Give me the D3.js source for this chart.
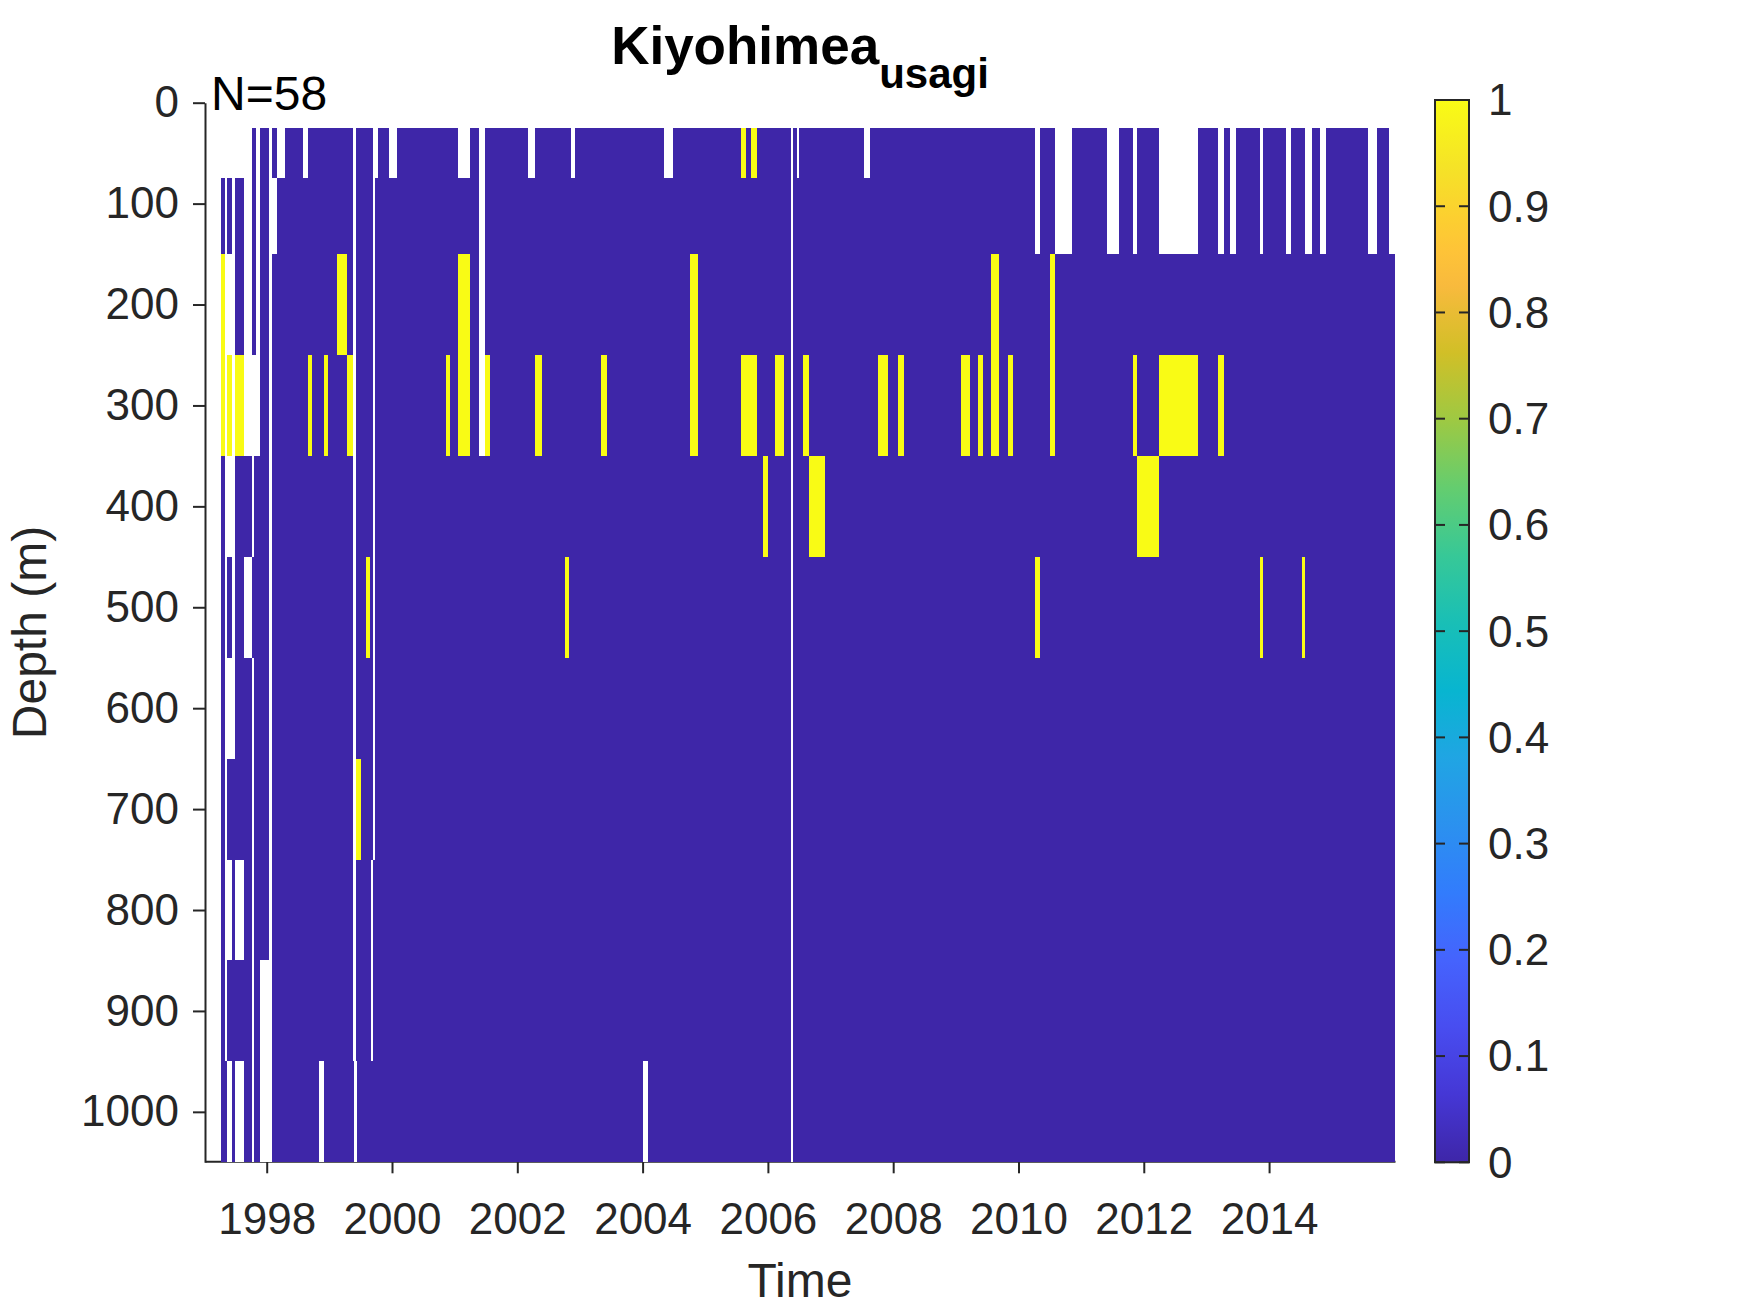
<!DOCTYPE html>
<html>
<head>
<meta charset="utf-8">
<script src="https://cdn.jsdelivr.net/npm/d3@7"></script>
<style>
  body { margin: 0; background: #fff; }
  svg { display: block; font-family: "Liberation Sans", Arial, Helvetica, sans-serif; }
</style>
</head>
<body>
<svg width="1750" height="1313"></svg>
<script>
"use strict";

// depth bins (m) around the sampled depths 50, 100, 200 ... 1000
const depthEdges = [25, 75, 150, 250, 350, 450, 550, 650, 750, 850, 950, 1050];
// first / last sampling time per depth bin (decimal year)
const firstSample = [1997.77, 1997.27, 1997.27, 1997.27, 1997.27, 1997.27, 1997.27, 1997.27, 1997.27, 1997.27, 1997.27];
const lastSample = 2016.01;

// gaps in the two shallowest bins after 2010
const shallowGaps = [
  [2010.27, 2010.35], [2010.58, 2010.86], [2011.42, 2011.60], [2011.83, 2011.89],
  [2012.25, 2012.87], [2013.19, 2013.28], [2013.38, 2013.47], [2013.86, 2013.91],
  [2014.27, 2014.35], [2014.58, 2014.69], [2014.82, 2014.91], [2015.58, 2015.72],
  [2015.92, 2016.01]
];

// not sampled (NaN) intervals, one list per depth bin
const noData = [
  [[1997.83, 1997.89], [1998.03, 1998.09], [1998.17, 1998.29], [1998.58, 1998.66], [1999.38, 1999.42],
   [1999.70, 1999.77], [1999.95, 2000.08], [2001.05, 2001.25], [2001.39, 2001.49], [2002.17, 2002.29],
   [2002.86, 2002.92], [2004.34, 2004.49], [2006.37, 2006.40], [2006.46, 2006.50], [2007.54, 2007.63],
   ...shallowGaps],
  [[1997.33, 1997.37], [1997.44, 1997.49], [1997.63, 1997.77], [1997.83, 1997.89], [1998.03, 1998.17],
   [1999.38, 1999.42], [1999.69, 1999.73], [2001.39, 2001.49], [2006.37, 2006.40], ...shallowGaps],
  [[1997.33, 1997.49], [1997.63, 1997.77], [1997.83, 1997.89], [1998.03, 1998.09], [1999.38, 1999.42],
   [1999.69, 1999.73], [2001.39, 2001.49], [2006.37, 2006.40]],
  [[1997.33, 1997.37], [1997.44, 1997.49], [1997.63, 1997.89], [1998.03, 1998.09], [1999.38, 1999.42],
   [1999.69, 1999.73], [2001.39, 2001.49], [2006.37, 2006.40]],
  [[1997.33, 1997.49], [1997.77, 1997.79], [1998.03, 1998.09], [1999.38, 1999.42], [1999.69, 1999.73],
   [2006.37, 2006.40]],
  [[1997.33, 1997.37], [1997.44, 1997.49], [1997.63, 1997.77], [1998.03, 1998.09], [1999.38, 1999.42],
   [1999.69, 1999.73], [2006.37, 2006.40]],
  [[1997.33, 1997.49], [1997.77, 1997.79], [1998.03, 1998.09], [1999.38, 1999.42], [1999.69, 1999.73],
   [2006.37, 2006.40]],
  [[1997.33, 1997.37], [1997.77, 1997.79], [1998.03, 1998.09], [1999.38, 1999.42], [1999.69, 1999.73],
   [2006.37, 2006.40]],
  [[1997.33, 1997.44], [1997.49, 1997.63], [1997.77, 1997.79], [1998.03, 1998.09], [1999.38, 1999.42],
   [1999.66, 1999.70], [2006.37, 2006.40]],
  [[1997.33, 1997.37], [1997.77, 1997.79], [1997.89, 1998.09], [1999.38, 1999.42], [1999.66, 1999.70],
   [2006.37, 2006.40]],
  [[1997.37, 1997.44], [1997.49, 1997.63], [1997.77, 1997.79], [1997.89, 1998.09], [1998.83, 1998.91],
   [1999.40, 1999.44], [2004.00, 2004.08], [2006.37, 2006.40]]
];

// intervals where Kiyohimea usagi was present (value 1), one list per depth bin
const present = [
  [[2005.57, 2005.65], [2005.73, 2005.83]],
  [],
  [[1997.27, 1997.33], [1999.12, 1999.28], [2001.05, 2001.25], [2004.76, 2004.89], [2009.56, 2009.69],
   [2010.51, 2010.58]],
  [[1997.27, 1997.33], [1997.37, 1997.44], [1997.49, 1997.63], [1998.66, 1998.73], [1998.91, 1998.98],
   [1999.28, 1999.38], [2000.86, 2000.93], [2001.05, 2001.25], [2001.49, 2001.57], [2002.29, 2002.40],
   [2003.33, 2003.43], [2004.76, 2004.89], [2005.57, 2005.83], [2006.11, 2006.26], [2006.56, 2006.66],
   [2007.76, 2007.92], [2008.08, 2008.17], [2009.08, 2009.23], [2009.36, 2009.44], [2009.56, 2009.69],
   [2009.83, 2009.91], [2010.51, 2010.58], [2011.83, 2011.89], [2012.25, 2012.87], [2013.19, 2013.28]],
  [[2005.92, 2006.00], [2006.66, 2006.91], [2011.89, 2012.25]],
  [[1999.58, 1999.65], [2002.76, 2002.83], [2010.27, 2010.35], [2013.86, 2013.91], [2014.52, 2014.58]],
  [],
  [[1999.43, 1999.50]],
  [],
  [],
  []
];

const yearTicks = [1998, 2000, 2002, 2004, 2006, 2008, 2010, 2012, 2014];
const depthTicks = [0, 100, 200, 300, 400, 500, 600, 700, 800, 900, 1000];
const colorTicks = [0, 0.1, 0.2, 0.3, 0.4, 0.5, 0.6, 0.7, 0.8, 0.9, 1];
const timeRange = [1997.015, 2016.01];
const depthRange = [0, 1050];

// parula colormap samples
const parulaPos = [0, 0.0635, 0.127, 0.19, 0.254, 0.317, 0.381, 0.444, 0.508, 0.571, 0.635, 0.698, 0.762, 0.825, 0.857, 0.889, 0.937, 1];
const parulaColors = ["#3e26a8", "#4537d5", "#484df0", "#4563fd", "#327cfc", "#2b91ef", "#20a5e3", "#08b5d0", "#19bfb6",
  "#37c897", "#64cd6f", "#9dc943", "#d1bf27", "#f8ba3d", "#fec338", "#fccf30", "#f5e327", "#f9fb15"];

const titleMain = "Kiyohimea";
const titleSub = "usagi";
const countLabel = "N=58";

const svg = d3.select("svg");
const axisColor = "#262626";
const plot = { left: 205, right: 1395, top: 102.7, bottom: 1162.3 };
const bar = { left: 1435, width: 34, top: 100, bottom: 1162.3 };

const xScale = d3.scaleLinear().domain(timeRange).range([plot.left, plot.right]);
const yScale = d3.scaleLinear().domain(depthRange).range([plot.top, plot.bottom]);
const colorScale = d3.scaleLinear().domain(parulaPos).range(parulaColors);

// axes first (MATLAB layer bottom)
const yAxis = d3.axisLeft(yScale)
  .tickValues(depthTicks)
  .tickFormat(d3.format("d"))
  .tickSize(12)
  .tickSizeOuter(0)
  .tickPadding(14);

const xAxis = d3.axisBottom(xScale)
  .tickValues(yearTicks)
  .tickFormat(d3.format("d"))
  .tickSize(12)
  .tickSizeOuter(0)
  .tickPadding(29);

const styleAxis = g => {
  g.select(".domain").attr("stroke", axisColor).attr("stroke-width", 2);
  g.selectAll(".tick line").attr("stroke", axisColor).attr("stroke-width", 2);
  g.selectAll(".tick text")
    .attr("fill", axisColor)
    .attr("font-size", 44)
    .attr("font-family", null);
  g.attr("font-family", null);
};

svg.append("g")
  .attr("transform", `translate(${plot.left},0)`)
  .call(yAxis)
  .call(styleAxis);

svg.append("g")
  .attr("transform", `translate(0,${plot.bottom - 1})`)
  .call(xAxis)
  .call(styleAxis);

// cells
const rows = firstSample.map((from, i) => ({ top: depthEdges[i], bottom: depthEdges[i + 1], t0: from, t1: lastSample }));
const gaps = noData.flatMap((list, i) => list.map(([t0, t1]) => ({ top: depthEdges[i], bottom: depthEdges[i + 1], t0, t1 })));
const hits = present.flatMap((list, i) => list.map(([t0, t1]) => ({ top: depthEdges[i], bottom: depthEdges[i + 1], t0, t1 })));

const cellsG = svg.append("g").attr("shape-rendering", "crispEdges");

const drawCells = (data, cls, fill) => {
  cellsG.selectAll(`rect.${cls}`)
    .data(data)
    .enter()
    .append("rect")
    .attr("class", cls)
    .attr("x", d => xScale(d.t0))
    .attr("y", d => yScale(d.top))
    .attr("width", d => xScale(d.t1) - xScale(d.t0))
    .attr("height", d => yScale(d.bottom) - yScale(d.top))
    .attr("fill", fill);
};

drawCells(rows, "absent", colorScale(0));
drawCells(gaps, "nodata", "#ffffff");
drawCells(hits, "present", colorScale(1));

// colorbar
const barScale = d3.scaleLinear().domain([0, 1]).range([bar.bottom, bar.top]);

const grad = svg.append("defs")
  .append("linearGradient")
  .attr("id", "parula")
  .attr("x1", 0).attr("y1", 1)
  .attr("x2", 0).attr("y2", 0);

grad.selectAll("stop")
  .data(parulaPos)
  .enter()
  .append("stop")
  .attr("offset", d => d)
  .attr("stop-color", (d, i) => parulaColors[i]);

const barG = svg.append("g");

barG.append("rect")
  .attr("x", bar.left)
  .attr("y", bar.top)
  .attr("width", bar.width)
  .attr("height", bar.bottom - bar.top)
  .attr("fill", "url(#parula)");

barG.selectAll("line.left")
  .data(colorTicks)
  .enter()
  .append("line")
  .attr("class", "left")
  .attr("x1", bar.left)
  .attr("x2", bar.left + 10)
  .attr("y1", d => barScale(d))
  .attr("y2", d => barScale(d))
  .attr("stroke", axisColor)
  .attr("stroke-width", 2);

barG.selectAll("line.right")
  .data(colorTicks)
  .enter()
  .append("line")
  .attr("class", "right")
  .attr("x1", bar.left + bar.width - 10)
  .attr("x2", bar.left + bar.width)
  .attr("y1", d => barScale(d))
  .attr("y2", d => barScale(d))
  .attr("stroke", axisColor)
  .attr("stroke-width", 2);

barG.append("rect")
  .attr("x", bar.left)
  .attr("y", bar.top)
  .attr("width", bar.width)
  .attr("height", bar.bottom - bar.top)
  .attr("fill", "none")
  .attr("stroke", axisColor)
  .attr("stroke-width", 2);

barG.selectAll("text")
  .data(colorTicks)
  .enter()
  .append("text")
  .attr("x", bar.left + bar.width + 19)
  .attr("y", d => barScale(d))
  .attr("dy", "0.35em")
  .attr("font-size", 44)
  .attr("fill", axisColor)
  .text(d => d3.format("~g")(d));

// labels
const title = svg.append("text")
  .attr("x", (plot.left + plot.right) / 2)
  .attr("y", 64)
  .attr("text-anchor", "middle")
  .attr("font-weight", "bold")
  .attr("font-size", 53)
  .attr("fill", "#000");

title.append("tspan").text(titleMain);
title.append("tspan")
  .attr("dy", 24)
  .attr("font-size", 42)
  .text(titleSub);

svg.append("text")
  .attr("x", 211)
  .attr("y", 110)
  .attr("font-size", 48)
  .attr("fill", "#000")
  .text(countLabel);

svg.append("text")
  .attr("transform", `translate(46,${(plot.top + plot.bottom) / 2}) rotate(-90)`)
  .attr("text-anchor", "middle")
  .attr("font-size", 48)
  .attr("fill", axisColor)
  .text("Depth (m)");

svg.append("text")
  .attr("x", (plot.left + plot.right) / 2)
  .attr("y", 1297)
  .attr("text-anchor", "middle")
  .attr("font-size", 48)
  .attr("fill", axisColor)
  .text("Time");
</script>
</body>
</html>
